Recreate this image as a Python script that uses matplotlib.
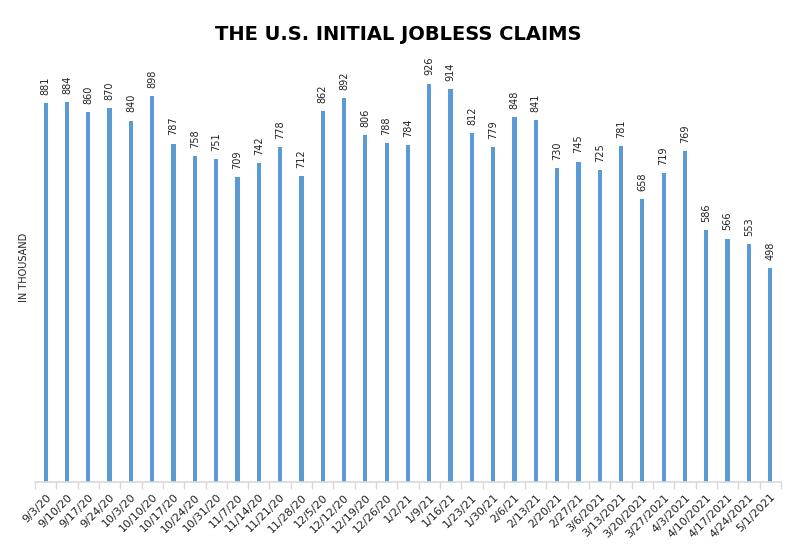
import matplotlib.pyplot as plt
import numpy as np

weeks = ['9/3/20', '9/10/20', '9/17/20', '9/24/20', '10/3/20', '10/10/20', '10/17/20',
         '10/24/20', '10/31/20', '11/7/20', '11/14/20', '11/21/20', '11/28/20', '12/5/20',
         '12/12/20', '12/19/20', '12/26/20', '1/2/21', '1/9/21', '1/16/21', '1/23/21',
         '1/30/21', '2/6/21', '2/13/21', '2/20/21', '2/27/21', '3/6/2021', '3/13/2021',
         '3/20/2021', '3/27/2021', '4/3/2021', '4/10/2021', '4/17/2021', '4/24/2021',
         '5/1/2021']
claims = [881, 884, 860, 870, 840, 898, 787, 758, 751, 709, 742, 778, 712, 862,
          892, 806, 788, 784, 926, 914, 812, 779, 848, 841, 730, 745, 725, 781,
          658, 719, 769, 586, 566, 553, 498]

plt.rcParams['font.family'] = ['DejaVu Sans']

fig = plt.figure(figsize=(7.96, 5.53), dpi=100)
ax = fig.add_axes([0.044, 0.128, 0.937, 0.778])

x = np.arange(len(weeks))
bars = ax.bar(x, claims, width=0.2, color='#5b9bd5')

# value labels above bars
for xi, v in zip(x, claims):
    ax.annotate(str(v), (xi, v), xytext=(0, 6), textcoords='offset points',
                rotation=90, ha='center', va='bottom', fontsize=7, color='#222222')

ax.set_xlim(-0.5, len(weeks) - 0.5)
ax.set_ylim(0, 1000)
ax.set_yticks([])

ax.set_xticks(x)
ax.set_xticklabels(weeks, rotation=45, ha='right', rotation_mode='anchor',
                   fontsize=8, color='#222222')
ax.tick_params(axis='x', length=0, pad=7)
ax.set_xticks(np.arange(-0.5, len(weeks)), minor=True)
ax.tick_params(axis='x', which='minor', length=5, color='#d9d9d9', width=1)

for s in ['top', 'right', 'left']:
    ax.spines[s].set_visible(False)
ax.spines['bottom'].set_color('#d9d9d9')
ax.spines['bottom'].set_linewidth(1.2)

ax.set_ylabel('IN THOUSAND', fontsize=7, color='#222222', labelpad=4)

fig.text(0.5, 0.937, 'THE U.S. INITIAL JOBLESS CLAIMS', ha='center', va='center',
         fontsize=14, fontweight='bold', color='black')

fig.savefig('out.png', dpi=100)
